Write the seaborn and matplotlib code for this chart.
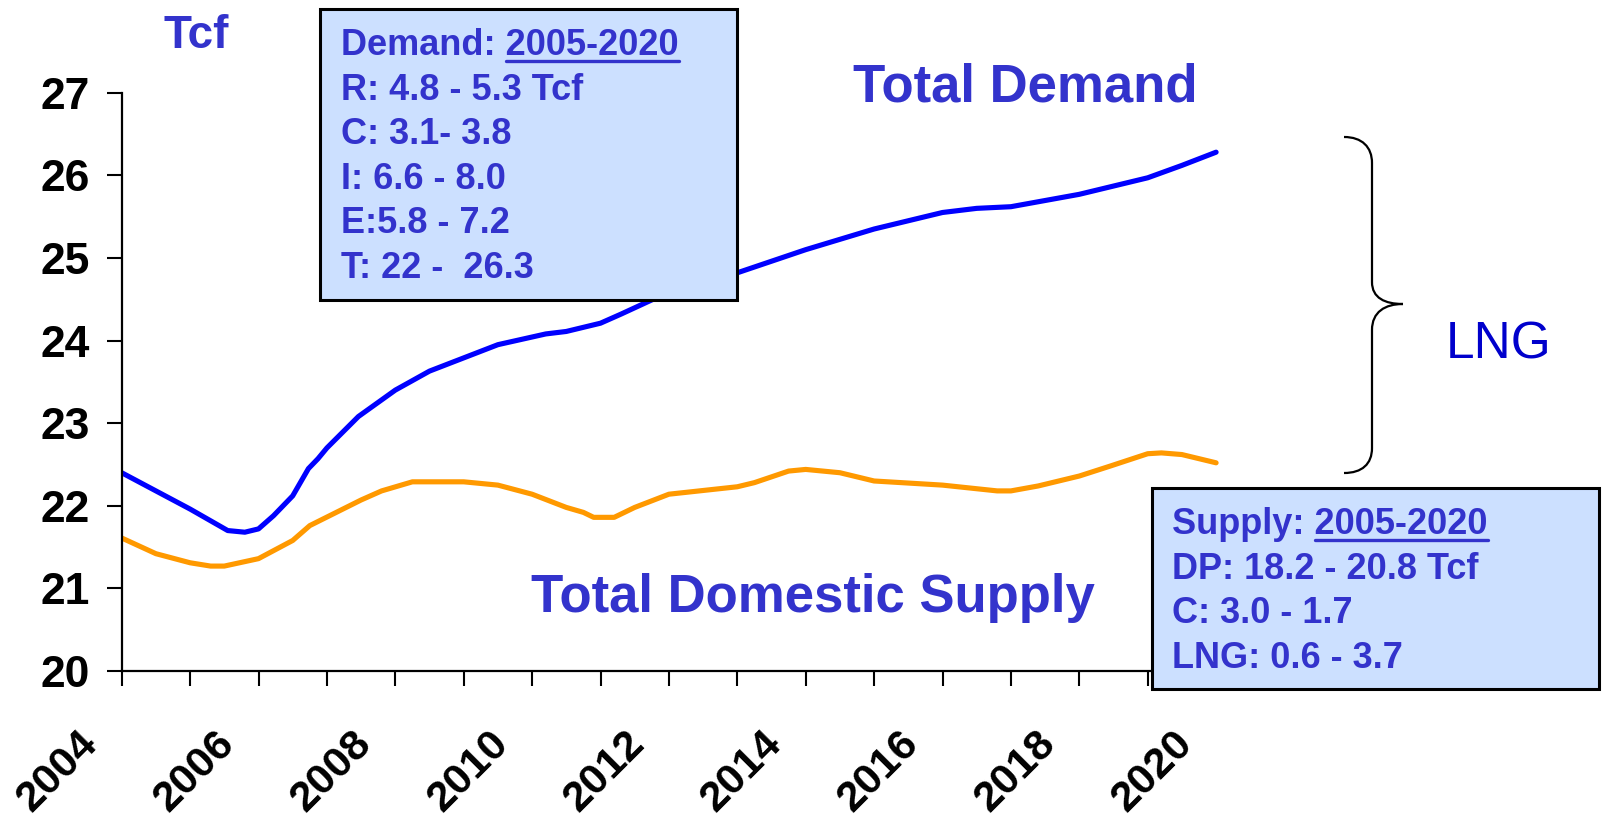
import matplotlib
matplotlib.use("Agg")
import matplotlib.pyplot as plt
import seaborn as sns
import pandas as pd
from matplotlib.patches import Rectangle, PathPatch
from matplotlib.path import Path
from matplotlib.transforms import ScaledTranslation

# values (Tcf)
demand_years = [2004.0, 2004.5, 2005.0, 2005.55, 2005.8, 2006.0, 2006.22, 2006.5, 2006.73,
                2006.87, 2007.0, 2007.46, 2008.0, 2008.5, 2009.0, 2009.5, 2010.2, 2010.5,
                2011.0, 2011.3, 2011.85, 2013.0, 2014.0, 2015.0, 2016.0, 2016.5, 2017.0,
                2018.0, 2019.0, 2019.5, 2020.0]
demand_tcf = [22.40, 22.18, 21.96, 21.70, 21.68, 21.72, 21.88, 22.12, 22.45,
              22.57, 22.70, 23.08, 23.40, 23.63, 23.79, 23.95, 24.08, 24.11,
              24.21, 24.32, 24.53, 24.82, 25.10, 25.35, 25.55, 25.60, 25.62,
              25.77, 25.97, 26.12, 26.28]

supply_years = [2004.0, 2004.5, 2005.0, 2005.3, 2005.5, 2006.0, 2006.5, 2006.75, 2007.5,
                2007.8, 2008.25, 2009.0, 2009.5, 2010.0, 2010.5, 2010.75, 2010.9, 2011.2,
                2011.5, 2012.0, 2013.0, 2013.25, 2013.75, 2014.0, 2014.5, 2015.0, 2016.0,
                2016.8, 2017.0, 2017.4, 2018.0, 2018.45, 2019.0, 2019.2, 2019.5, 2020.0]
supply_tcf = [21.61, 21.42, 21.31, 21.27, 21.27, 21.36, 21.58, 21.76, 22.07,
              22.18, 22.29, 22.29, 22.25, 22.14, 21.98, 21.92, 21.86, 21.86,
              21.98, 22.14, 22.23, 22.28, 22.42, 22.44, 22.40, 22.30, 22.25,
              22.18, 22.18, 22.24, 22.36, 22.48, 22.63, 22.64, 22.62, 22.52]

year_ticks = list(range(2004, 2021))
tcf_ticks = list(range(20, 28))

demand_note = ["Demand: 2005-2020", "R: 4.8 - 5.3 Tcf", "C: 3.1- 3.8",
               "I: 6.6 - 8.0", "E:5.8 - 7.2", "T: 22 -  26.3"]
supply_note = ["Supply: 2005-2020", "DP: 18.2 - 20.8 Tcf", "C: 3.0 - 1.7",
               "LNG: 0.6 - 3.7"]
note_years = "2005-2020"

W, H = 1602, 826
TXT = "#3333cc"
BOX = "#cce0ff"

sns.set_style("ticks")
plt.rcParams["font.family"] = ["Liberation Sans", "DejaVu Sans"]
plt.rcParams["axes.linewidth"] = 1.6

fig = plt.figure(figsize=(W / 100, H / 100), dpi=100)


def fx(x):
    return x / W


def fy(y):
    return 1 - y / H


ax = fig.add_axes([fx(121.7), fy(671), fx(1250.3) - fx(121.7), fy(92.7) - fy(671)])

df_d = pd.DataFrame({"year": demand_years, "tcf": demand_tcf})
df_s = pd.DataFrame({"year": supply_years, "tcf": supply_tcf})
sns.lineplot(data=df_d, x="year", y="tcf", ax=ax, color="#0000ff", lw=3.7)
sns.lineplot(data=df_s, x="year", y="tcf", ax=ax, color="#ff9900", lw=3.7)

ax.set_xlim(2004, 2020.5)
ax.set_ylim(20, 27)
ax.set_xticks(year_ticks)
ax.set_xticklabels([str(y) if (y - 2004) % 2 == 0 else "" for y in year_ticks],
                   rotation=45, ha="right", fontsize=31, fontweight="bold")
ax.set_yticks(tcf_ticks)
ax.set_yticklabels([str(t) for t in tcf_ticks], fontsize=32, fontweight="bold")
ax.tick_params(axis="both", direction="out", length=11, width=1.5, color="black",
               labelcolor="black")
ax.tick_params(axis="x", pad=27)
ax.tick_params(axis="y", pad=12)
ax.spines["left"].set_color("black")
ax.spines["bottom"].set_color("black")
ax.set_xlabel("")
ax.set_ylabel("")
sns.despine(ax=ax)
for lab in ax.get_xticklabels():
    lab.set_transform(lab.get_transform() + ScaledTranslation(-0.16, 0, fig.dpi_scale_trans))

# free labels
fig.text(fx(163), fy(48), "Tcf", color=TXT, fontsize=33, fontweight="bold", va="baseline")
fig.text(fx(853), fy(102), "Total Demand", color=TXT, fontsize=38, fontweight="bold", va="baseline")
fig.text(fx(531), fy(612), "Total Domestic Supply", color=TXT, fontsize=38, fontweight="bold",
         va="baseline")
fig.text(fx(1446), fy(358), "LNG", color="#0000cc", fontsize=37, va="baseline")

# brace
verts = [(1344, 137), (1362, 137), (1372, 147), (1372, 163),
         (1372, 282),
         (1372, 298), (1385, 304), (1403, 304),
         (1385, 304), (1372, 312), (1372, 330),
         (1372, 448),
         (1372, 464), (1362, 473), (1344, 473)]
codes = [Path.MOVETO, Path.CURVE4, Path.CURVE4, Path.CURVE4,
         Path.LINETO,
         Path.CURVE4, Path.CURVE4, Path.CURVE4,
         Path.CURVE4, Path.CURVE4, Path.CURVE4,
         Path.LINETO,
         Path.CURVE4, Path.CURVE4, Path.CURVE4]
brace = Path([(fx(x), fy(y)) for x, y in verts], codes)
fig.add_artist(PathPatch(brace, transform=fig.transFigure, fill=False, lw=1.6,
                         edgecolor="black", zorder=5))


def note_box(x0, y0, x1, y1, lines, text_x, first_base):
    fig.add_artist(Rectangle((fx(x0), fy(y1)), fx(x1) - fx(x0), fy(y0) - fy(y1),
                             transform=fig.transFigure, facecolor=BOX, edgecolor="black",
                             lw=2.2, zorder=6))
    renderer = fig.canvas.get_renderer()
    for i, line in enumerate(lines):
        base = first_base + i * 44.6
        t = fig.text(fx(text_x), fy(base), line, color=TXT, fontsize=26, fontweight="bold",
                     va="baseline", zorder=7)
        if i == 0:
            # underline the year span at the end of the heading
            full = t.get_window_extent(renderer)
            probe = fig.text(0, 0, note_years, fontsize=26, fontweight="bold")
            wy = probe.get_window_extent(renderer).width
            probe.remove()
            ul = plt.Line2D([(full.x1 - wy) / W, full.x1 / W], [fy(base + 6), fy(base + 6)],
                            transform=fig.transFigure, color=TXT, lw=2.4, zorder=7)
            fig.add_artist(ul)


note_box(320, 9, 737, 300, demand_note, 341, 55)
note_box(1152, 488, 1599, 689, supply_note, 1172, 534)

fig.savefig("out.png", dpi=100)
